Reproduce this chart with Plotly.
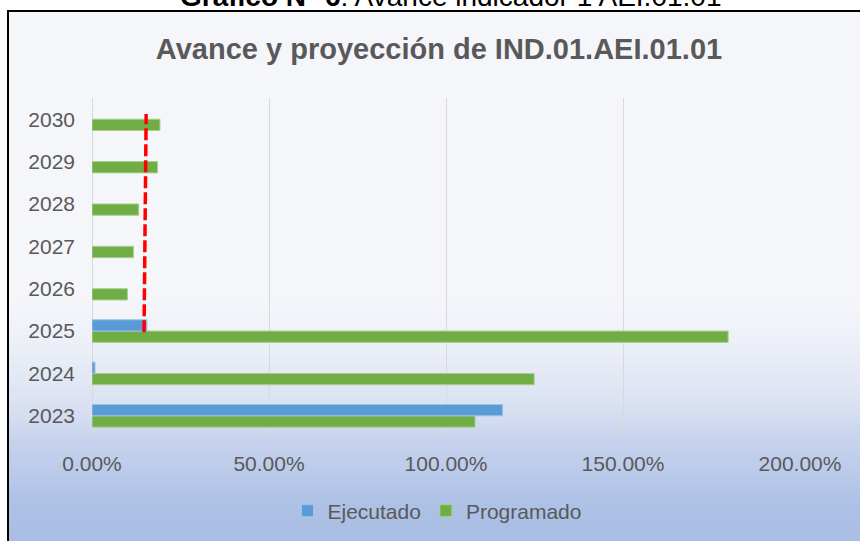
import plotly.graph_objects as go

# ---------------- data ----------------
anios = ["2023", "2024", "2025", "2026", "2027", "2028", "2029", "2030"]
ejecutado = [116.0, 0.85, 15.5, None, None, None, None, None]
programado = [108.2, 124.9, 179.7, 10.0, 11.7, 13.2, 18.5, 19.2]
linea_meta_x = [14.7, 15.3]          # red dashed reference (bottom, top)
linea_meta_y = [1.97, 7.12]          # category index span (2025 .. above 2030)
ticks_x = [0, 50, 100, 150, 200]
ticks_x_text = ["0.00%", "50.00%", "100.00%", "150.00%", "200.00%"]

# ---------------- geometry helpers ----------------
W, H = 860, 541
L, R, T, B = 92, 60, 98, 104
PW, PH = W - L - R, H - T - B


def px_x(sx):                # pixel -> paper x
    return (sx - L) / PW


def px_y(sy):                # pixel -> paper y
    return (H - B - sy) / PH


FONT = "Liberation Sans, Arial, sans-serif"
GREY = "#595959"

fig = go.Figure()
fig.add_trace(go.Bar(
    y=anios, x=programado, orientation="h", name="Programado",
    marker=dict(color="#70ad47", line=dict(color="#a9d18e", width=1)),
))
fig.add_trace(go.Bar(
    y=anios, x=ejecutado, orientation="h", name="Ejecutado",
    marker=dict(color="#5b9bd5", line=dict(color="#9dc3e6", width=1)),
))

shapes = []
# background: flat top + vertical gradient at bottom
shapes.append(dict(type="rect", xref="paper", yref="paper", layer="below",
                   x0=px_x(8), x1=px_x(880), y0=px_y(560), y1=px_y(11),
                   fillcolor="#f5f6fa", line=dict(width=0)))
stops = [(300, (0xf5, 0xf6, 0xfa)), (340, (0xed, 0xf0, 0xf8)), (380, (0xe2, 0xe8, 0xf4)),
         (416, (0xd5, 0xdd, 0xf0)), (440, (0xc7, 0xd3, 0xed)), (470, (0xbc, 0xcb, 0xea)),
         (500, (0xae, 0xc2, 0xe6)), (545, (0xa9, 0xbd, 0xe4))]


def col_at(sy):
    for (a, ca), (b, cb) in zip(stops[:-1], stops[1:]):
        if a <= sy <= b:
            t = (sy - a) / (b - a)
            c = [round(ca[i] + (cb[i] - ca[i]) * t) for i in range(3)]
            return "rgb(%d,%d,%d)" % tuple(c)
    return "rgb(%d,%d,%d)" % stops[-1][1]


step = 3
sy = 300
while sy < 545:
    shapes.append(dict(type="rect", xref="paper", yref="paper", layer="below",
                       x0=px_x(8), x1=px_x(880), y0=px_y(sy + step + 0.5), y1=px_y(sy),
                       fillcolor=col_at(sy + step / 2), line=dict(width=0)))
    sy += step
# outer frame
shapes.append(dict(type="rect", xref="paper", yref="paper", layer="below",
                   x0=px_x(8), x1=px_x(900), y0=px_y(600), y1=px_y(11),
                   line=dict(color="#000000", width=2), fillcolor="rgba(0,0,0,0)"))
# red dashed line
shapes.append(dict(type="line", xref="x", yref="y", layer="above",
                   x0=linea_meta_x[0], x1=linea_meta_x[1],
                   y0=linea_meta_y[0], y1=linea_meta_y[1],
                   line=dict(color="#ff0000", width=3.5, dash="12px,4px")))

fig.update_layout(
    width=W, height=H,
    margin=dict(l=L, r=R, t=T, b=B, autoexpand=False),
    paper_bgcolor="#ffffff",
    plot_bgcolor="rgba(0,0,0,0)",
    barmode="group", bargap=0.466, bargroupgap=0,
    font=dict(family=FONT, size=21, color=GREY),
    title=dict(text="<b>Avance y proyección de IND.01.AEI.01.01</b>",
               x=439 / W, xref="container", xanchor="center",
               y=1 - 49 / H, yref="container", yanchor="middle",
               font=dict(family=FONT, size=29, color=GREY)),
    shapes=shapes,
    showlegend=True,
    legend=dict(orientation="h", traceorder="reversed",
                x=px_x(437), xanchor="center", y=px_y(511), yanchor="middle",
                font=dict(family=FONT, size=21, color=GREY),
                bgcolor="rgba(0,0,0,0)", itemwidth=30),
    annotations=[dict(text="<b>Gráfico N° 6</b>: Avance indicador 1 AEI.01.01",
                      xref="paper", yref="paper", x=px_x(723), y=px_y(-3),
                      xanchor="right", yanchor="middle", showarrow=False,
                      font=dict(family=FONT, size=28, color="#000000"))],
    xaxis=dict(range=[0, 200], tickvals=ticks_x, ticktext=ticks_x_text,
               showgrid=True, gridcolor="#d9d9d9", gridwidth=1,
               zeroline=True, zerolinecolor="#d9d9d9", zerolinewidth=1,
               showline=False, ticks="", ticklabelstandoff=12,
               tickfont=dict(family=FONT, size=21, color=GREY), fixedrange=True),
    yaxis=dict(type="category", categoryorder="array", categoryarray=anios,
               showgrid=False, zeroline=False, showline=False, ticks="",
               ticklabelstandoff=16,
               tickfont=dict(family=FONT, size=21, color=GREY), fixedrange=True),
)

fig.write_html("out.html",
               config={"displayModeBar": False},
               post_script="document.body.style.margin='0';"
                           "document.body.style.overflow='hidden';")
